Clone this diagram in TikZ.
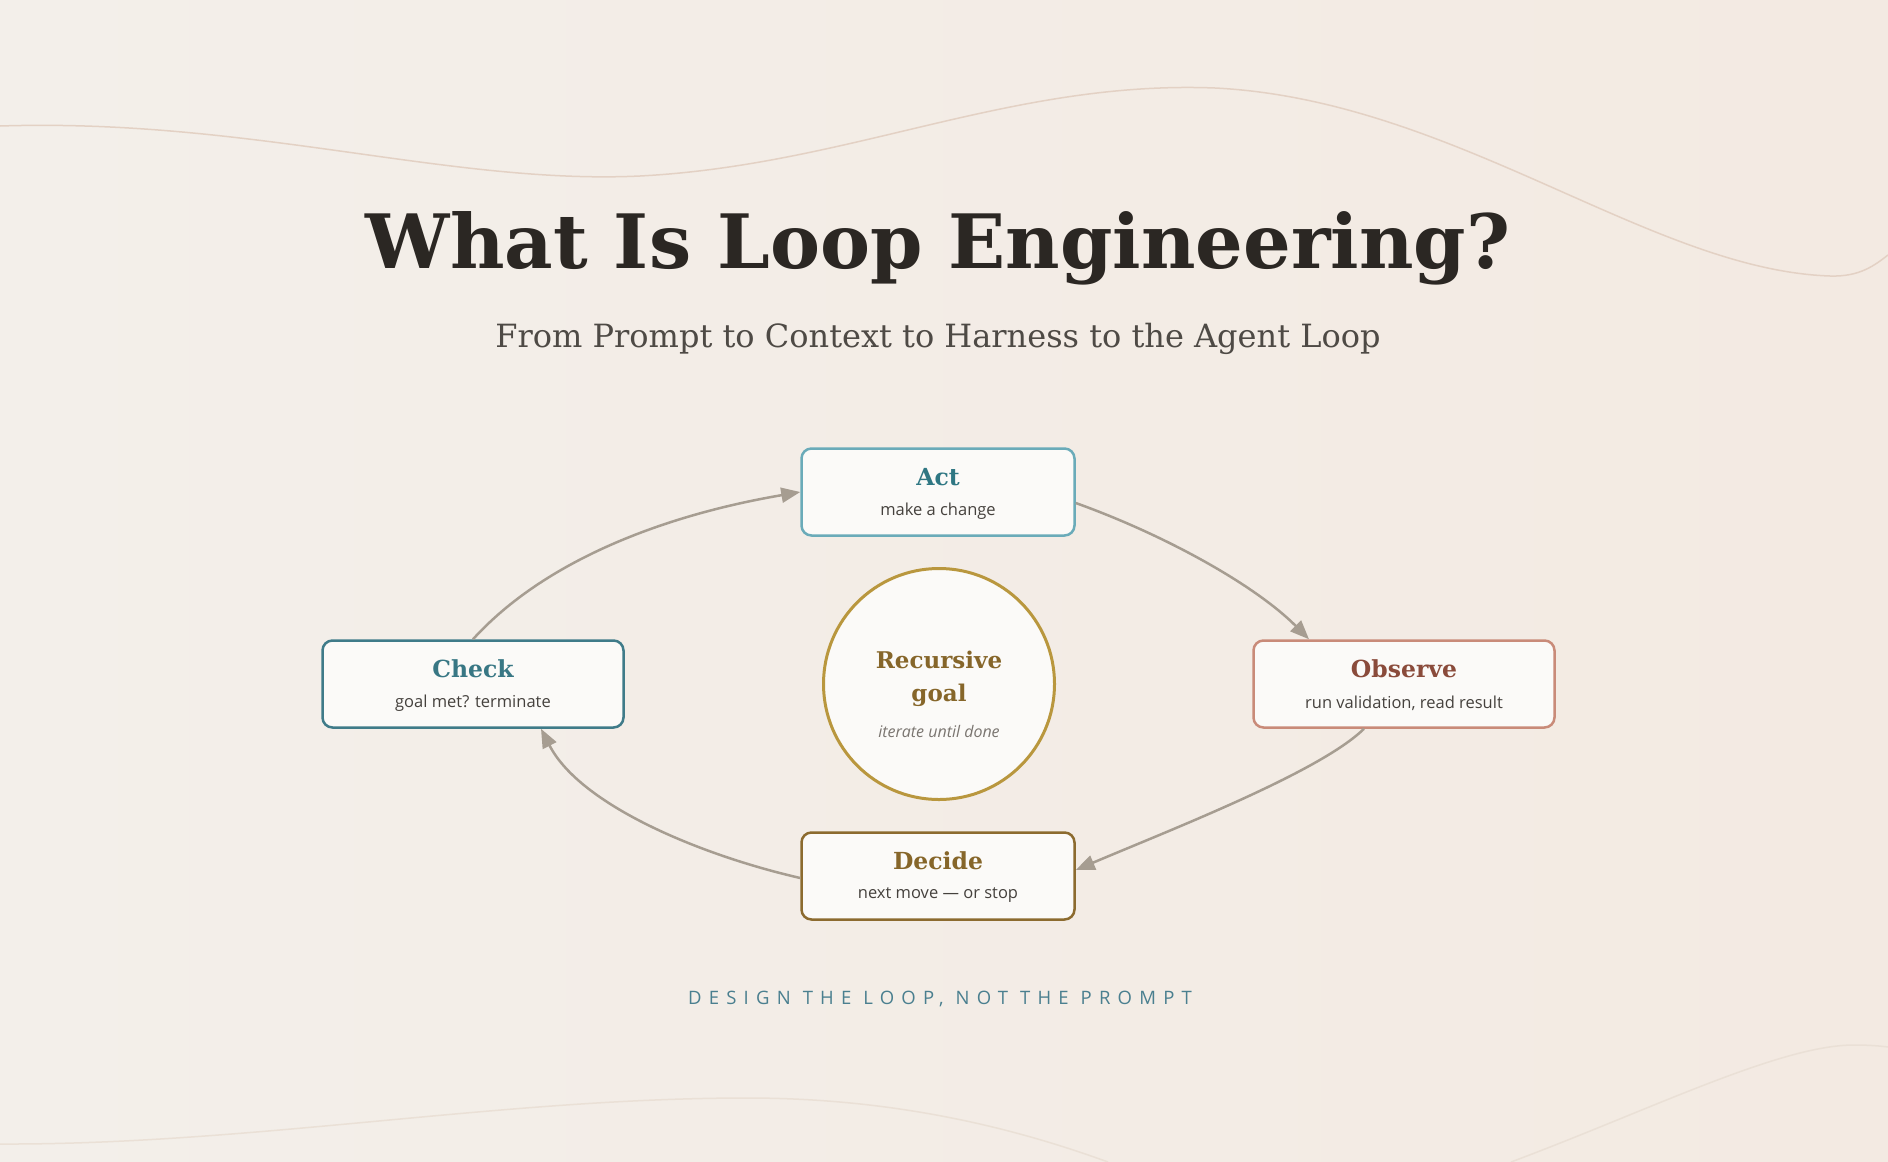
\documentclass[tikz,border=0pt]{standalone}
\usepackage{fontspec}
\setmainfont{DejaVu Serif}
\newfontfamily\seriff{DejaVu Serif}
\newfontfamily\sansf{Open Sans}
\newfontfamily\spacedf[LetterSpace=39]{Open Sans}
\usetikzlibrary{arrows.meta,shapes.geometric}
\definecolor{bgL}{HTML}{F3EFEA}
\definecolor{bgR}{HTML}{F3EAE2}
\definecolor{wave}{HTML}{E3D1C4}
\definecolor{waveB}{HTML}{EAE0D6}
\definecolor{boxfill}{HTML}{FBFAF8}
\definecolor{titlec}{HTML}{2B2723}
\definecolor{subc}{HTML}{4E4A45}
\definecolor{actB}{HTML}{6AABB9}
\definecolor{actT}{HTML}{2F7783}
\definecolor{chkB}{HTML}{3F7B89}
\definecolor{chkT}{HTML}{387784}
\definecolor{obsB}{HTML}{C98B79}
\definecolor{obsT}{HTML}{8A4B3B}
\definecolor{decB}{HTML}{8C6B2F}
\definecolor{decT}{HTML}{86662A}
\definecolor{goalB}{HTML}{B9973E}
\definecolor{goalT}{HTML}{86662A}
\definecolor{smallc}{HTML}{45413D}
\definecolor{italc}{HTML}{7A7570}
\definecolor{arrowc}{HTML}{A69D91}
\definecolor{footc}{HTML}{4A7F8F}
\tikzset{
  stagebox/.style={draw, line width=2.5pt, rounded corners=10pt, fill=boxfill,
    minimum width=273pt, minimum height=87pt, inner sep=0pt},
  wideb/.style={minimum width=301pt},
  ttl/.style={font=\seriff\bfseries\fontsize{23.5}{28}\selectfont},
  sub/.style={font=\sansf\fontsize{16.5}{19}\selectfont, text=smallc},
  loopar/.style={draw=arrowc, line width=2.5pt, -{Triangle[length=19pt,width=15pt]}},
}
\begin{document}
\begin{tikzpicture}[x=1pt,y=-1pt]
\useasboundingbox (0,0) rectangle (1888,1162);
\shade[left color=bgL, right color=bgR] (0,0) rectangle (1888,1162);
% decorative waves
\draw[wave, line width=1.5pt] (0,126) .. controls (250,118) and (450,185) .. (640,176)
  .. controls (850,165) and (1010,80) .. (1215,88)
  .. controls (1455,100) and (1650,270) .. (1830,276)
  .. controls (1860,277) and (1875,265) .. (1888,255);
\draw[waveB, line width=1.5pt] (0,1144) .. controls (250,1145) and (500,1098) .. (747,1098)
  .. controls (900,1098) and (1020,1130) .. (1108,1162);
\draw[waveB, line width=1.5pt] (1511,1162) .. controls (1650,1110) and (1780,1045) .. (1854,1045)
  .. controls (1870,1045) and (1880,1046) .. (1888,1047);
% titles
\node[font=\seriff\bfseries\fontsize{75}{86}\selectfont, text=titlec, anchor=base] (title) at (938,268) {What Is Loop Engineering?};
\node[font=\seriff\fontsize{32}{37}\selectfont, text=subc, anchor=base] (subtitle) at (938,347) {From Prompt to Context to Harness to the Agent Loop};
% stages
\node[stagebox, draw=actB] (act) at (938,492) {};
\node[ttl, text=actT] at (938,477) {Act};
\node[sub] at (938,511) {make a change};
\node[stagebox, wideb, draw=chkB] (chk) at (473,684) {};
\node[ttl, text=chkT] at (473,669) {Check};
\node[sub] at (473,703) {goal met? terminate};
\node[stagebox, wideb, draw=obsB] (obs) at (1404,684) {};
\node[ttl, text=obsT] at (1404,669) {Observe};
\node[sub] at (1404,703) {run validation, read result};
\node[stagebox, draw=decB] (dec) at (938,876) {};
\node[ttl, text=decT] at (938,861) {Decide};
\node[sub] at (938,895) {next move — or stop};
% goal
\node[circle, draw=goalB, line width=3pt, fill=boxfill, minimum size=231pt, inner sep=0pt] (goal) at (939,684) {};
\node[font=\seriff\bfseries\fontsize{23}{33}\selectfont, text=goalT, align=center] at (939,679) {Recursive\\goal};
\node[font=\sansf\itshape\fontsize{16}{19}\selectfont, text=italc] at (939,731) {iterate until done};
% loop arrows
\draw[loopar] (chk.north) .. controls (545,560) and (665,515) .. ([yshift=0pt]act.west);
\draw[loopar] ([yshift=-11pt]act.east) .. controls (1165,535) and (1255,585) .. ([xshift=-95pt]obs.north);
\draw[loopar] ([xshift=-40pt]obs.south) .. controls (1320,772) and (1170,830) .. ([yshift=6pt]dec.east);
\draw[loopar] ([yshift=-2pt]dec.west) .. controls (700,855) and (580,805) .. ([xshift=68pt]chk.south);
% footer
\node[font=\spacedf\fontsize{18.5}{22}\selectfont, text=footc] (foot) at (940,999) {DESIGN THE LOOP, NOT THE PROMPT};
\end{tikzpicture}
\end{document}
